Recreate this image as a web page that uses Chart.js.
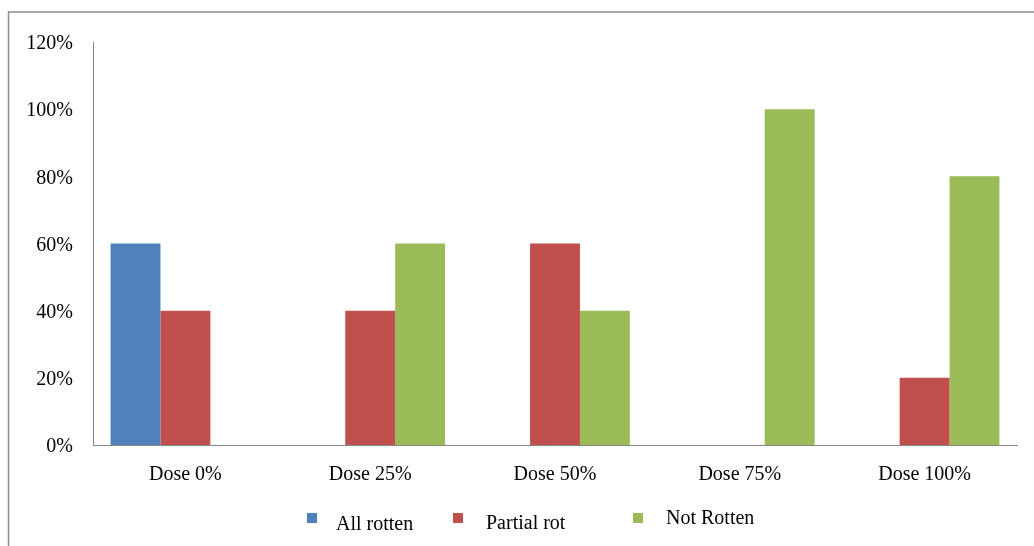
<!DOCTYPE html>
<html>
<head>
<meta charset="utf-8">
<script src="https://cdn.jsdelivr.net/npm/chart.js@4"></script>
<style>
  html, body { margin: 0; padding: 0; background: #ffffff; }
  #wrap { width: 1034px; height: 546px; position: relative; }
</style>
</head>
<body>
<div id="wrap"><canvas id="c" width="1034" height="546"></canvas></div>
<script>
// Rot outcome by treatment dose (percentage of fruits)
const doses = ['Dose 0%', 'Dose 25%', 'Dose 50%', 'Dose 75%', 'Dose 100%'];
const allRotten = [60, 0, 0, 0, 0];
const partialRot = [40, 40, 60, 0, 20];
const notRotten = [0, 60, 40, 100, 80];
const yTicks = [0, 20, 40, 60, 80, 100, 120];

const FONT = '"Liberation Serif", "Times New Roman", serif';

// Outer frame around the chart
const framePlugin = {
  id: 'frame',
  beforeDraw(chart) {
    const ctx = chart.ctx;
    ctx.save();
    ctx.fillStyle = '#ffffff';
    ctx.fillRect(0, 0, chart.width, chart.height);
    ctx.strokeStyle = '#8c8c8c';
    ctx.lineWidth = 1.5;
    ctx.strokeRect(8.5, 12, chart.width + 20, chart.height + 20);
    ctx.restore();
  }
};

// Legend row under the axis
const legendPlugin = {
  id: 'bottomLegend',
  afterDraw(chart) {
    const ctx = chart.ctx;
    const boxX = [307, 453, 633];
    const textX = [336, 486, 666];
    const baseY = [530, 529, 524];
    ctx.save();
    ctx.font = '20px ' + FONT;
    ctx.textBaseline = 'alphabetic';
    ctx.textAlign = 'left';
    chart.data.datasets.forEach((ds, i) => {
      ctx.fillStyle = ds.backgroundColor;
      ctx.fillRect(boxX[i], 513, 10, 10);
      ctx.fillStyle = '#000000';
      ctx.fillText(ds.label, textX[i], baseY[i]);
    });
    ctx.restore();
  }
};

new Chart(document.getElementById('c'), {
  type: 'bar',
  data: {
    labels: doses,
    datasets: [
      { label: 'All rotten', data: allRotten, backgroundColor: '#4F81BD' },
      { label: 'Partial rot', data: partialRot, backgroundColor: '#C0504D' },
      { label: 'Not Rotten', data: notRotten, backgroundColor: '#9BBB59' }
    ]
  },
  options: {
    responsive: false,
    animation: false,
    devicePixelRatio: 1,
    layout: { padding: { left: 0, top: 42, right: 17, bottom: 0 } },
    datasets: { bar: { categoryPercentage: 0.81, barPercentage: 1.0, borderWidth: 0 } },
    plugins: { legend: { display: false }, tooltip: { enabled: false } },
    scales: {
      x: {
        grid: { display: false, drawTicks: false },
        border: { display: true, color: '#868686', width: 1 },
        ticks: { color: '#000000', font: { family: FONT, size: 20 }, padding: 18, maxRotation: 0 },
        afterFit(scale) { scale.height = 101; }
      },
      y: {
        min: 0,
        max: 120,
        grid: { display: false, drawTicks: false },
        border: { display: true, color: '#868686', width: 1 },
        afterBuildTicks(scale) { scale.ticks = yTicks.map(v => ({ value: v })); },
        ticks: {
          color: '#000000',
          font: { family: FONT, size: 20 },
          padding: 20,
          labelOffset: 2,
          callback: v => v + '%'
        },
        afterFit(scale) { scale.width = 93; }
      }
    }
  },
  plugins: [framePlugin, legendPlugin]
});
</script>
</body>
</html>
